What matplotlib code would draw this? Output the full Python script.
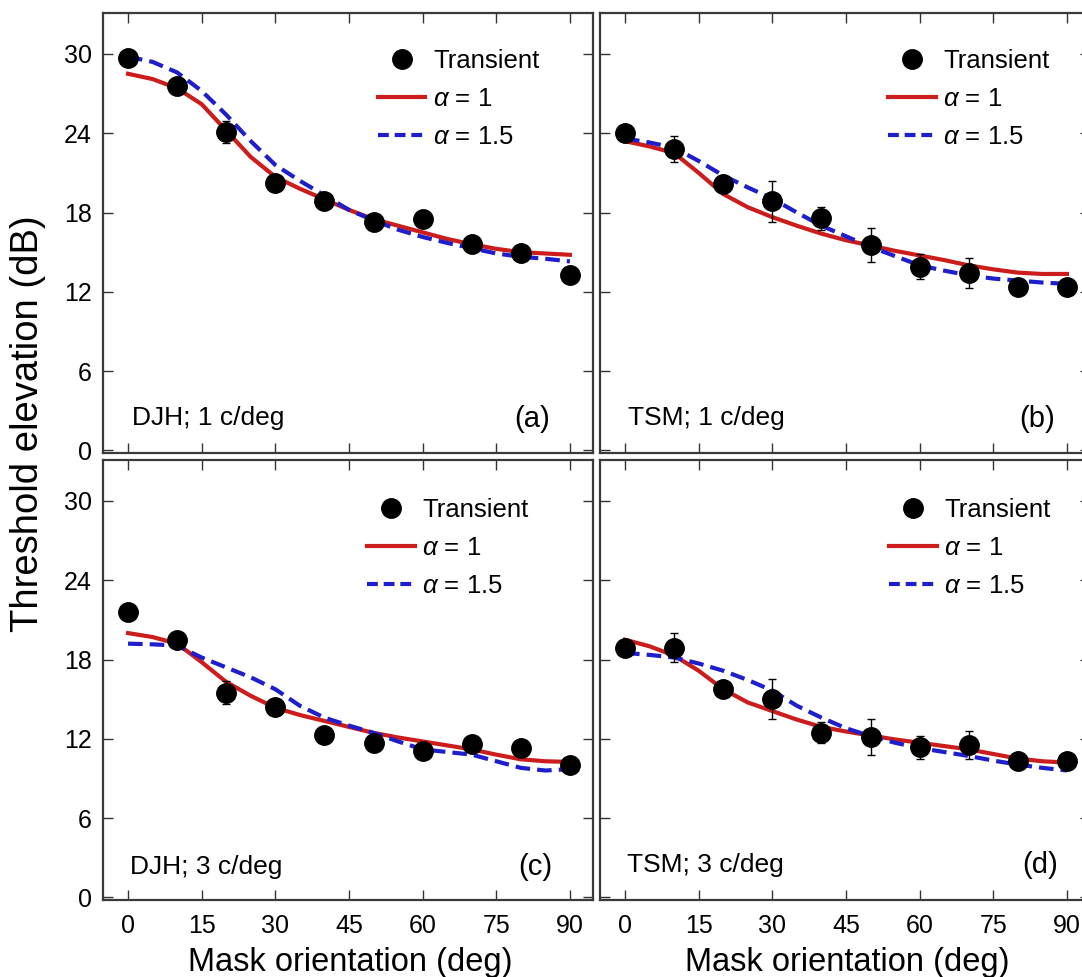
import numpy as np
import matplotlib
matplotlib.use("Agg")
import matplotlib.pyplot as plt
from matplotlib.lines import Line2D

plt.rcParams['font.family'] = ['Liberation Sans', 'DejaVu Sans']
plt.rcParams['mathtext.fontset'] = 'custom'
plt.rcParams['mathtext.it'] = 'Liberation Sans:italic'
plt.rcParams['mathtext.rm'] = 'Liberation Sans'

# measured orientations and fitted-curve orientations
orient = [0, 10, 20, 30, 40, 50, 60, 70, 80, 90]
orient_fit = [0, 5, 10, 15, 20, 25, 30, 35, 40, 45, 50, 55, 60, 65, 70, 75, 80, 85, 90]

# (a) DJH; 1 c/deg
a_pts = [29.7, 27.6, 24.1, 20.25, 18.85, 17.3, 17.5, 15.6, 14.9, 13.3]
a_err = [0.3, 0.4, 0.85, 0.3, 0.3, 0.3, 0.3, 0.3, 0.3, 0.3]
a_fit1 = [28.5, 28.1, 27.4, 26.2, 24.2, 22.2, 20.7, 19.8, 19.0, 18.2, 17.5, 17.0,
          16.5, 16.0, 15.6, 15.25, 15.0, 14.9, 14.8]
a_fit15 = [29.8, 29.4, 28.6, 27.2, 25.4, 23.4, 21.6, 20.4, 19.3, 18.2, 17.4, 16.7,
           16.15, 15.7, 15.3, 14.9, 14.65, 14.5, 14.3]

# (b) TSM; 1 c/deg
b_pts = [24.05, 22.8, 20.15, 18.85, 17.55, 15.55, 13.9, 13.4, 12.35, 12.4]
b_err = [0.5, 1.0, 0.6, 1.55, 0.85, 1.3, 0.95, 1.15, 0.5, 0.4]
b_fit1 = [23.4, 23.0, 22.5, 21.0, 19.4, 18.4, 17.65, 17.0, 16.4, 15.9, 15.5, 15.1,
          14.75, 14.4, 14.0, 13.7, 13.45, 13.35, 13.35]
b_fit15 = [23.6, 23.3, 22.9, 21.9, 20.8, 19.9, 19.05, 18.0, 17.0, 16.2, 15.4, 14.7,
           14.0, 13.6, 13.25, 13.0, 12.85, 12.7, 12.6]

# (c) DJH; 3 c/deg
c_pts = [21.6, 19.5, 15.5, 14.4, 12.3, 11.7, 11.05, 11.6, 11.3, 10.05]
c_err = [0.3, 0.3, 0.9, 0.3, 0.3, 0.3, 0.3, 0.3, 0.3, 0.3]
c_fit1 = [20.0, 19.7, 19.2, 17.8, 16.3, 15.25, 14.35, 13.8, 13.35, 12.9, 12.45, 12.1,
          11.8, 11.5, 11.2, 10.8, 10.45, 10.3, 10.25]
c_fit15 = [19.2, 19.15, 19.05, 18.15, 17.4, 16.65, 15.75, 14.5, 13.6, 13.0, 12.45, 11.8,
           11.2, 11.0, 10.8, 10.3, 9.8, 9.6, 9.7]

# (d) TSM; 3 c/deg
d_pts = [18.85, 18.9, 15.8, 15.0, 12.45, 12.15, 11.35, 11.55, 10.3, 10.3]
d_err = [0.5, 1.1, 0.6, 1.5, 0.8, 1.35, 0.85, 1.05, 0.5, 0.4]
d_fit1 = [19.5, 19.0, 18.3, 17.15, 15.75, 14.75, 14.1, 13.45, 12.9, 12.55, 12.25, 11.95,
          11.7, 11.45, 11.2, 10.85, 10.5, 10.3, 10.2]
d_fit15 = [18.5, 18.35, 18.15, 17.7, 17.15, 16.45, 15.65, 14.5, 13.6, 12.8, 12.2, 11.7,
           11.3, 11.0, 10.7, 10.35, 10.05, 9.8, 9.6]

panel_names = ['DJH; 1 c/deg', 'TSM; 1 c/deg', 'DJH; 3 c/deg', 'TSM; 3 c/deg']
panel_tags = ['(a)', '(b)', '(c)', '(d)']
yticks = [0, 6, 12, 18, 24, 30]
xticks = [0, 15, 30, 45, 60, 75, 90]

red = '#cc1c1c'
blue = '#1e1ecc'
W, H = 1082, 977

fig = plt.figure(figsize=(W / 100, H / 100), dpi=100)

# axes boxes in pixels: left, top (each 490 x 440)
boxes = [(103, 13), (600, 13), (103, 460), (600, 460)]
data = [(a_pts, a_err, a_fit1, a_fit15),
        (b_pts, b_err, b_fit1, b_fit15),
        (c_pts, c_err, c_fit1, c_fit15),
        (d_pts, d_err, d_fit1, d_fit15)]
leg_xy = [(0.561, 0.918), (0.588, 0.918), (0.539, 0.914), (0.59, 0.914)]
name_xy = [(0.059, 0.08), (0.057, 0.08), (0.055, 0.075), (0.055, 0.08)]
tag_xy = [(0.912, 0.077), (0.929, 0.077), (0.918, 0.075), (0.935, 0.08)]

for i in range(4):
    lx, ty = boxes[i]
    ax = fig.add_axes([lx / W, 1 - (ty + 440) / H, 490 / W, 440 / H])
    pts, err, f1, f15 = data[i]
    ax.plot(orient_fit, f1, color=red, lw=3, zorder=2)
    ax.plot(orient_fit, f15, color=blue, lw=3, dashes=(3.5, 1.7), zorder=2)
    ax.errorbar(orient, pts, yerr=err, fmt='o', color='black', ms=14,
                ecolor='black', elinewidth=1, capsize=3, capthick=1, zorder=3)

    ax.set_xlim(-5.1, 94.7)
    ax.set_ylim(-0.2, 33.1)
    ax.set_xticks(xticks)
    ax.set_yticks(yticks)
    ax.tick_params(direction='in', top=True, right=True, length=7, width=1,
                   color='#333333', labelsize=18)
    ax.tick_params(axis='y', pad=8)
    ax.tick_params(axis='x', pad=10)
    if i < 2:
        ax.tick_params(labelbottom=False)
    if i % 2 == 1:
        ax.tick_params(labelleft=False)
    for s in ax.spines.values():
        s.set_color('#3a3a3a')
        s.set_linewidth(1.6)

    handles = [Line2D([], [], ls='none', marker='o', color='black', ms=14),
               Line2D([], [], color=red, lw=3),
               Line2D([], [], color=blue, lw=3, dashes=(2.6, 1.4))]
    ax.legend(handles, ['Transient', r'$\alpha$ = 1', r'$\alpha$ = 1.5'],
              loc='upper left', bbox_to_anchor=leg_xy[i], frameon=False,
              fontsize=18.5, handlelength=1.85, handletextpad=0.3,
              labelspacing=0.55, borderpad=0, borderaxespad=0)

    ax.text(name_xy[i][0], name_xy[i][1], panel_names[i], transform=ax.transAxes,
            fontsize=19, ha='left', va='center')
    ax.text(tag_xy[i][0], tag_xy[i][1], panel_tags[i], transform=ax.transAxes,
            fontsize=21, ha='right', va='center')

fig.text(28 / W, 1 - 424 / H, 'Threshold elevation (dB)', rotation=90,
         ha='center', va='center', fontsize=27.5)
fig.text(350 / W, 1 - 963 / H, 'Mask orientation (deg)', ha='center',
         va='center', fontsize=23.5)
fig.text(847 / W, 1 - 963 / H, 'Mask orientation (deg)', ha='center',
         va='center', fontsize=23.5)

fig.savefig('out.png', dpi=100)
